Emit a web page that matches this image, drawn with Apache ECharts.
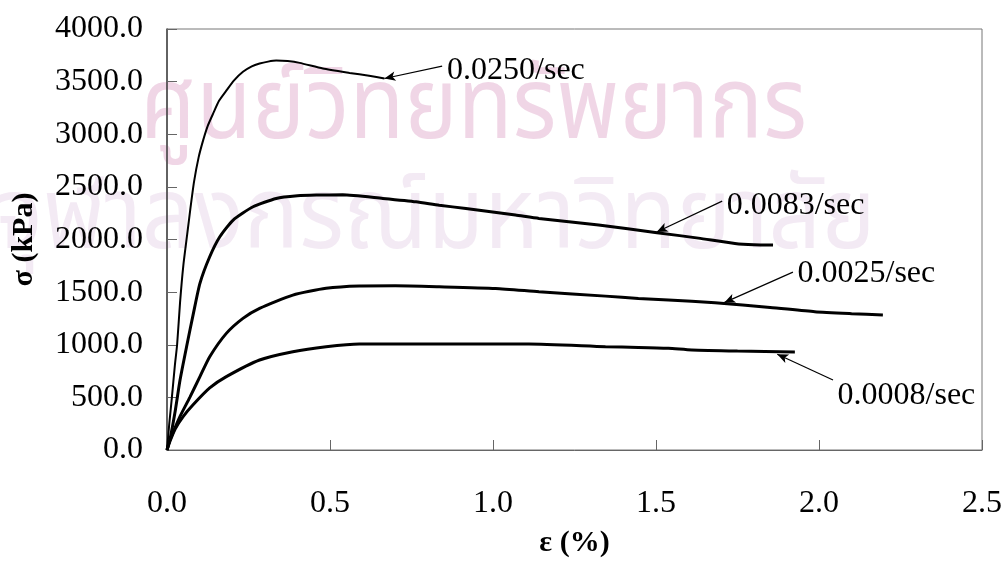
<!DOCTYPE html>
<html>
<head>
<meta charset="utf-8">
<title>Stress-strain curves at different strain rates</title>
<script src="https://cdn.jsdelivr.net/npm/echarts@6/dist/echarts.min.js"></script>
<style>
  html, body { margin: 0; padding: 0; background: #fff; }
  #chart { width: 1005px; height: 563px; }
</style>
</head>
<body>
<div id="chart"></div>
<script>
// Strain-rate labels for each curve
const rateLabels = ['0.0250/sec', '0.0083/sec', '0.0025/sec', '0.0008/sec'];

// Axial strain (%) and deviator stress (kPa) for each strain rate
const strain0250 = [0, 0.007, 0.015, 0.024, 0.031, 0.040, 0.050, 0.062, 0.072, 0.083, 0.097, 0.111, 0.125, 0.142, 0.160, 0.183, 0.205, 0.233, 0.260, 0.284, 0.310, 0.335, 0.370, 0.407, 0.478, 0.560, 0.620, 0.667];
const stress0250 = [0, 250, 500, 800, 1000, 1400, 1750, 2050, 2300, 2550, 2780, 2944, 3080, 3200, 3320, 3419, 3510, 3593, 3645, 3672, 3690, 3700, 3695, 3678, 3625, 3583, 3555, 3530];

const strain0083 = [0, 0.009, 0.024, 0.040, 0.060, 0.081, 0.101, 0.131, 0.162, 0.203, 0.264, 0.335, 0.400, 0.458, 0.539, 0.662, 0.764, 0.835, 0.917, 1.069, 1.141, 1.324, 1.503, 1.630, 1.742, 1.800, 1.859];
const stress0083 = [0, 100, 348, 665, 981, 1298, 1583, 1836, 2026, 2185, 2311, 2390, 2415, 2422, 2425, 2390, 2358, 2325, 2295, 2232, 2200, 2137, 2065, 2013, 1963, 1950, 1947];

const strain0025 = [0, 0.005, 0.019, 0.040, 0.070, 0.101, 0.131, 0.182, 0.233, 0.284, 0.386, 0.488, 0.590, 0.700, 0.835, 1.008, 1.141, 1.345, 1.446, 1.538, 1.681, 1.850, 1.987, 2.100, 2.196];
const stress0025 = [0, 60, 170, 320, 500, 697, 886, 1108, 1251, 1346, 1472, 1536, 1558, 1560, 1551, 1535, 1504, 1462, 1440, 1425, 1399, 1355, 1314, 1295, 1282];

const strain0008 = [0, 0.010, 0.025, 0.050, 0.080, 0.131, 0.182, 0.284, 0.386, 0.488, 0.590, 0.700, 0.835, 1.110, 1.345, 1.446, 1.538, 1.610, 1.750, 1.926];
const stress0008 = [0, 90, 200, 320, 430, 590, 697, 855, 934, 981, 1007, 1007, 1007, 1007, 981, 975, 966, 950, 940, 932];

// Callout arrows: point on the curve, then the point where the label sits
const arrowTip  = [[0.667, 3530], [1.502, 2072], [1.709, 1400], [1.872, 910]];
const arrowTail = [[0.844, 3647], [1.703, 2365], [1.920, 1690], [2.043, 665]];

// Axis tick values
const xTicks = [0, 0.5, 1.0, 1.5, 2.0, 2.5];
const yTicks = [0, 500, 1000, 1500, 2000, 2500, 3000, 3500, 4000];

const strains = [strain0250, strain0083, strain0025, strain0008];
const stresses = [stress0250, stress0083, stress0025, stress0008];
const widths = [2, 3, 3, 3];
// vertical nudge of each callout text (px, downward)
const labelDrop = [5, 7, 3, 13];

const serif = '"Liberation Serif", "Times New Roman", serif';
const thai = '"Noto Sans Thai", "Noto Sans", sans-serif';

const series = rateLabels.map((name, i) => ({
  name: name,
  type: 'line',
  data: strains[i].map((e, k) => [e, stresses[i][k]]),
  showSymbol: false,
  smooth: 0.2,
  lineStyle: { color: '#000', width: widths[i] },
  itemStyle: { color: '#000' },
  silent: true,
  z: 3,
  markLine: {
    silent: true,
    animation: false,
    symbol: ['arrow', 'none'],
    symbolSize: [7, 11],
    lineStyle: { color: '#000', width: 1.2, type: 'solid' },
    label: {
      show: true,
      position: 'end',
      distance: 5,
      formatter: '{t|' + name + '}',
      rich: {
        t: {
          padding: [labelDrop[i] * 2, 0, 0, 0],
          color: '#000',
          fontFamily: serif,
          fontSize: 32
        }
      }
    },
    data: [[
      { coord: arrowTip[i] },
      { coord: arrowTail[i] }
    ]]
  }
}));

const chart = echarts.init(document.getElementById('chart'), null, { renderer: 'canvas' });
chart.setOption({
  animation: false,
  backgroundColor: '#fff',
  graphic: [
    {
      type: 'text', left: 140, top: 68, z: 0, silent: true, scaleX: 0.9,
      style: { text: 'ศูนย์วิทยทรัพยากร', fontSize: 100, fontFamily: thai, fill: 'rgba(214,140,185,0.36)' }
    },
    {
      type: 'text', left: -6, top: 178, z: 0, silent: true, scaleX: 0.92,
      style: { text: 'จุฬาลงกรณ์มหาวิทยาลัย', fontSize: 100, fontFamily: thai, fill: 'rgba(200,160,205,0.22)' }
    }
  ],
  grid: {
    left: 167, right: 21, top: 29, bottom: 113,
    show: true, borderColor: '#777', borderWidth: 1, backgroundColor: 'transparent'
  },
  xAxis: {
    type: 'value',
    min: xTicks[0], max: xTicks[xTicks.length - 1], interval: 0.5,
    name: 'ε (%)',
    nameLocation: 'middle',
    nameGap: 78,
    nameTextStyle: { fontFamily: serif, fontSize: 30, fontWeight: 'bold', color: '#000' },
    axisLine: { lineStyle: { color: '#666', width: 1 } },
    axisTick: { inside: true, length: 10, lineStyle: { color: '#666' } },
    axisLabel: { margin: 38, fontFamily: serif, fontSize: 32, color: '#000', formatter: v => v.toFixed(1) },
    splitLine: { show: false }
  },
  yAxis: {
    type: 'value',
    min: yTicks[0], max: yTicks[yTicks.length - 1], interval: 500,
    name: 'σ (kPa)',
    nameLocation: 'middle',
    nameGap: 128,
    nameTextStyle: { fontFamily: serif, fontSize: 30, fontWeight: 'bold', color: '#000' },
    axisLine: { show: true, lineStyle: { color: '#444', width: 1.5 } },
    axisTick: { show: true, inside: true, length: 10, lineStyle: { color: '#666' } },
    axisLabel: { margin: 24, fontFamily: serif, fontSize: 32, color: '#000', formatter: v => v.toFixed(1) },
    splitLine: { show: false }
  },
  series: series
});
</script>
</body>
</html>
